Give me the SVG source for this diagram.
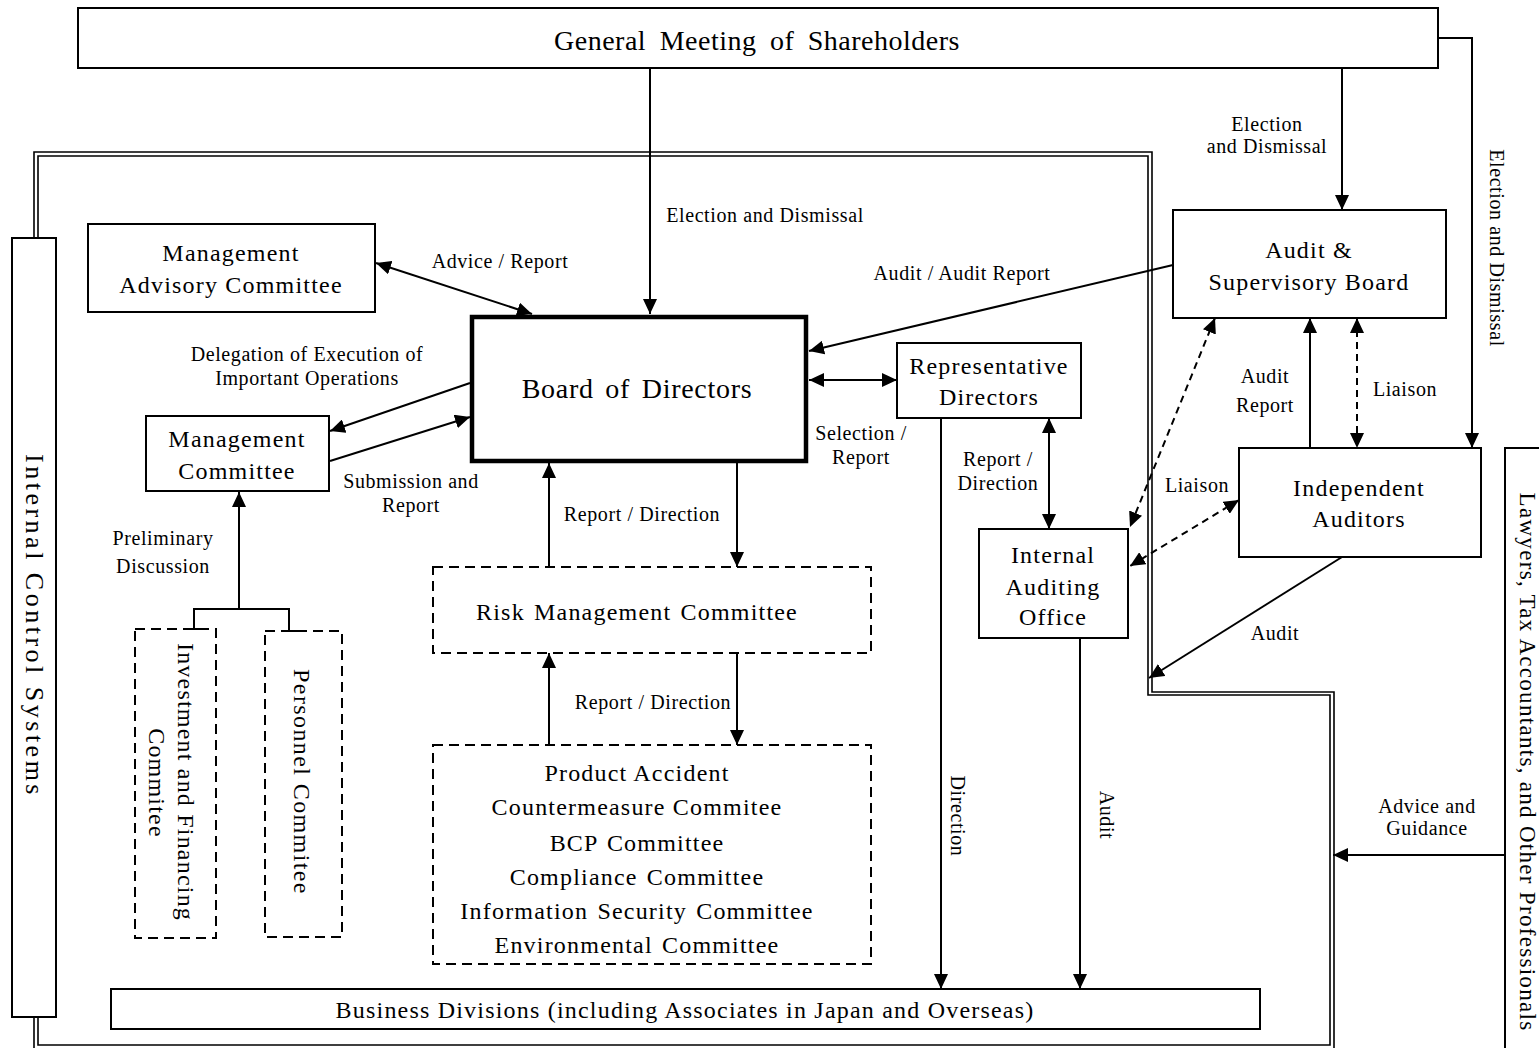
<svg xmlns="http://www.w3.org/2000/svg" width="1539" height="1048" viewBox="0 0 1539 1048">
<style>
.box{fill:#fff;stroke:#000;stroke-width:2}
.dash{fill:#fff;stroke:#000;stroke-width:2;stroke-dasharray:10,6}
.c{fill:none;stroke:#000;stroke-width:2}
.cd{stroke-dasharray:7,5}
.bd{fill:none;stroke:#000;stroke-width:1.6}
text{font-family:"Liberation Serif","Times New Roman",serif;fill:#000;text-anchor:middle;dominant-baseline:central}
.t{font-size:24px;letter-spacing:1.2px}
.l{font-size:20px;letter-spacing:0.6px}
</style>
<defs>
<marker id="ah" markerUnits="userSpaceOnUse" markerWidth="16" markerHeight="14" refX="15" refY="7" orient="auto-start-reverse" viewBox="0 0 16 14">
<path d="M0,0 L15,7 L0,14 z" fill="#000"/>
</marker>
</defs>

<g id="border">
<path class="bd" d="M34,1049 V152 H1152 V692 H1334 V1049"/>
<path class="bd" d="M38,156 H1148 V695 H1330 V1045 H38 Z"/>
</g>

<g id="general-meeting">
<rect class="box" x="78" y="8" width="1360" height="60"/>
<text x="757" y="40" style="font-size:28px;letter-spacing:0.5px;word-spacing:6px">General Meeting of Shareholders</text>
</g>

<g id="internal-control">
<rect class="box" x="12" y="238" width="44" height="779"/>
<text class="t" style="font-size:26px;letter-spacing:3.5px" transform="translate(34,626) rotate(90)">Internal Control Systems</text>
</g>

<g id="lawyers">
<rect class="box" x="1505" y="448" width="40" height="610"/>
<text class="t" style="font-size:23px;letter-spacing:1.3px" transform="translate(1527,762) rotate(90)">Lawyers, Tax Accountants, and Other Professionals</text>
</g>

<g id="management-advisory">
<rect class="box" x="88" y="224" width="287" height="88"/>
<text class="t" x="231" y="253">Management</text>
<text class="t" x="231" y="285">Advisory Committee</text>
</g>

<g id="board">
<rect x="472" y="317" width="334" height="144" fill="#fff" stroke="#000" stroke-width="4.5"/>
<text x="637" y="388" style="font-size:28px;letter-spacing:0.7px;word-spacing:4px">Board of Directors</text>
</g>

<g id="management-committee">
<rect class="box" x="146" y="416" width="183" height="75"/>
<text class="t" x="237" y="439">Management</text>
<text class="t" x="237" y="471">Committee</text>
</g>

<g id="investment">
<rect class="dash" x="135" y="629" width="81" height="309"/>
<text class="t" transform="translate(186,782) rotate(90)">Investment and Financing</text>
<text class="t" transform="translate(157,783) rotate(90)">Commitee</text>
</g>

<g id="personnel">
<rect class="dash" x="265" y="631" width="77" height="306"/>
<text class="t" style="letter-spacing:1.4px" transform="translate(302,782) rotate(90)">Personnel Commitee</text>
</g>

<g id="risk">
<rect class="dash" x="433" y="567" width="438" height="86"/>
<text class="t" x="637" y="612" style="word-spacing:2px">Risk Management Committee</text>
</g>

<g id="product">
<rect class="dash" x="433" y="745" width="438" height="219"/>
<text class="t" x="637" y="773">Product Accident</text>
<text class="t" x="637" y="807">Countermeasure Commitee</text>
<text class="t" x="637" y="843" style="word-spacing:2px">BCP Committee</text>
<text class="t" x="637" y="877" style="word-spacing:2px">Compliance Committee</text>
<text class="t" x="637" y="911" style="word-spacing:2px">Information Security Committee</text>
<text class="t" x="637" y="945" style="word-spacing:2px">Environmental Committee</text>
</g>

<g id="business">
<rect class="box" x="111" y="989" width="1149" height="40"/>
<text class="t" x="685" y="1010">Business Divisions (including Associates in Japan and Overseas)</text>
</g>

<g id="representative">
<rect class="box" x="897" y="343" width="184" height="75"/>
<text class="t" x="989" y="366">Representative</text>
<text class="t" x="989" y="397">Directors</text>
</g>

<g id="internal-audit">
<rect class="box" x="979" y="529" width="149" height="109"/>
<text class="t" x="1053" y="555">Internal</text>
<text class="t" x="1053" y="587">Auditing</text>
<text class="t" x="1053" y="617">Office</text>
</g>

<g id="audit-board">
<rect class="box" x="1173" y="210" width="273" height="108"/>
<text class="t" x="1309" y="250">Audit &amp;</text>
<text class="t" x="1309" y="282">Supervisory Board</text>
</g>

<g id="independent-auditors">
<rect class="box" x="1239" y="448" width="242" height="109"/>
<text class="t" x="1359" y="488">Independent</text>
<text class="t" x="1359" y="519">Auditors</text>
</g>

<g id="connectors">
<path class="c" d="M650,68 V314" marker-end="url(#ah)"/>
<path class="c" d="M1342,68 V210" marker-end="url(#ah)"/>
<path class="c" d="M1438,38 H1472 V448" marker-end="url(#ah)"/>
<path class="c" d="M376,263 L532,314" marker-start="url(#ah)" marker-end="url(#ah)"/>
<path class="c" d="M470,383 L330,431" marker-end="url(#ah)"/>
<path class="c" d="M330,461 L470,417" marker-end="url(#ah)"/>
<path class="c" d="M239,609 V492" marker-end="url(#ah)"/>
<path class="c" d="M208,629 H194 V609 H289 V631 H300"/>
<path class="c" d="M809,380 H897" marker-start="url(#ah)" marker-end="url(#ah)"/>
<path class="c" d="M1173,265 L809,351" marker-end="url(#ah)"/>
<path class="c" d="M737,463 V567" marker-end="url(#ah)"/>
<path class="c" d="M549,567 V463" marker-end="url(#ah)"/>
<path class="c" d="M737,653 V745" marker-end="url(#ah)"/>
<path class="c" d="M549,745 V653" marker-end="url(#ah)"/>
<path class="c" d="M941,418 V989" marker-end="url(#ah)"/>
<path class="c" d="M1049,418 V529" marker-start="url(#ah)" marker-end="url(#ah)"/>
<path class="c" d="M1080,638 V989" marker-end="url(#ah)"/>
<path class="c" d="M1310,448 V318" marker-end="url(#ah)"/>
<path class="c cd" d="M1357,318 V448" marker-start="url(#ah)" marker-end="url(#ah)"/>
<path class="c cd" d="M1215,318 L1130,527" marker-start="url(#ah)" marker-end="url(#ah)"/>
<path class="c cd" d="M1239,500 L1130,566" marker-start="url(#ah)" marker-end="url(#ah)"/>
<path class="c" d="M1342,557 L1149,678" marker-end="url(#ah)"/>
<path class="c" d="M1505,855 H1333" marker-end="url(#ah)"/>
</g>

<g id="labels">
<text class="l" x="765" y="215">Election and Dismissal</text>
<text class="l" x="1267" y="124">Election</text>
<text class="l" x="1267" y="146">and Dismissal</text>
<text class="l" transform="translate(1497,248) rotate(90)">Election and Dismissal</text>
<text class="l" x="500" y="261">Advice / Report</text>
<text class="l" x="962" y="273">Audit / Audit Report</text>
<text class="l" x="307" y="354">Delegation of Execution of</text>
<text class="l" x="307" y="378">Important Operations</text>
<text class="l" x="1265" y="376">Audit</text>
<text class="l" x="1265" y="405">Report</text>
<text class="l" x="1405" y="389">Liaison</text>
<text class="l" x="861" y="433">Selection /</text>
<text class="l" x="861" y="457">Report</text>
<text class="l" x="411" y="481">Submission and</text>
<text class="l" x="411" y="505">Report</text>
<text class="l" x="998" y="459">Report /</text>
<text class="l" x="998" y="483">Direction</text>
<text class="l" x="1197" y="485">Liaison</text>
<text class="l" x="642" y="514">Report / Direction</text>
<text class="l" x="163" y="538">Preliminary</text>
<text class="l" x="163" y="566">Discussion</text>
<text class="l" x="1275" y="633">Audit</text>
<text class="l" x="653" y="702">Report / Direction</text>
<text class="l" x="1427" y="806">Advice and</text>
<text class="l" x="1427" y="828">Guidance</text>
<text class="l" transform="translate(958,816) rotate(90)">Direction</text>
<text class="l" transform="translate(1107,815) rotate(90)">Audit</text>
</g>
</svg>
